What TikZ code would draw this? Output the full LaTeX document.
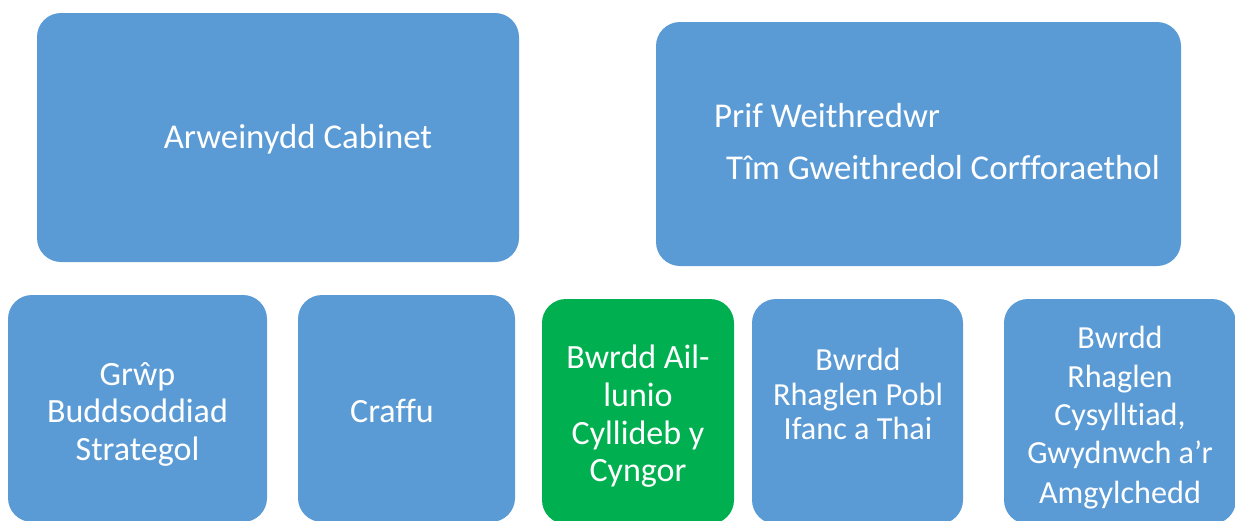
\documentclass[tikz,border=0pt]{standalone}
\usepackage{fontspec}
\setmainfont{Carlito}[Ligatures=NoCommon]
\definecolor{boxblue}{HTML}{5B9BD5}
\definecolor{boxgreen}{HTML}{00B050}
\begin{document}
\begin{tikzpicture}[x=1pt,y=-1pt,
  card/.style={rectangle, rounded corners=24pt, fill=boxblue, draw=none, inner sep=0pt},
  greencard/.style={card, fill=boxgreen},
  txt/.style={text=white, anchor=base, inner sep=0pt, font=\fontsize{34}{37.5}\selectfont},
  toptxt/.style={txt, font=\fontsize{34.8}{40}\selectfont},
  smalltxt/.style={txt, font=\fontsize{32.2}{36}\selectfont}]
\useasboundingbox (0,0) rectangle (1235,520);
\clip (0,0) rectangle (1235,520);
% boxes
\node[card, minimum width=482pt, minimum height=249pt] (b1) at (278,137.5) {};
\node[card, minimum width=525pt, minimum height=244pt] (b2) at (918.5,144) {};
\node[card, minimum width=259pt, minimum height=227pt] (b3) at (137.5,408.5) {};
\node[card, minimum width=217pt, minimum height=227pt] (b4) at (406.5,408.5) {};
\node[greencard, minimum width=192pt, minimum height=225pt] (b5) at (638,411.5) {};
\node[card, minimum width=211pt, minimum height=225pt] (b6) at (857.5,411.5) {};
\node[card, minimum width=232pt, minimum height=225pt] (b7) at (1120,411.5) {};
% texts
\node[toptxt] (t1) at (298,148) {Arweinydd Cabinet};
\node[toptxt, anchor=base west] (t2a) at (714,127) {Prif Weithredwr};
\node[toptxt, anchor=base west] (t2b) at (726,179) {Tîm Gweithredol Corfforaethol};
\node[txt] (t3a) at (137.5,385) {Grŵp};
\node[txt] (t3b) at (137.5,422) {Buddsoddiad};
\node[txt] (t3c) at (137.5,460) {Strategol};
\node[txt] (t4) at (392,422) {Craffu};
\node[txt] (t5a) at (638,368) {Bwrdd Ail-};
\node[txt] (t5b) at (638,406) {lunio};
\node[txt] (t5c) at (638,444) {Cyllideb y};
\node[txt] (t5d) at (638,481) {Cyngor};
\node[smalltxt] (t6a) at (858,370) {Bwrdd};
\node[smalltxt] (t6b) at (858,405) {Rhaglen Pobl};
\node[smalltxt] (t6c) at (858,439) {Ifanc a Thai};
\node[smalltxt] (t7a) at (1120,348) {Bwrdd};
\node[smalltxt] (t7b) at (1120,387) {Rhaglen};
\node[smalltxt] (t7c) at (1120,425) {Cysylltiad,};
\node[smalltxt] (t7d) at (1120,463) {Gwydnwch a’r};
\node[smalltxt] (t7e) at (1120,503) {Amgylchedd};
\end{tikzpicture}
\end{document}
